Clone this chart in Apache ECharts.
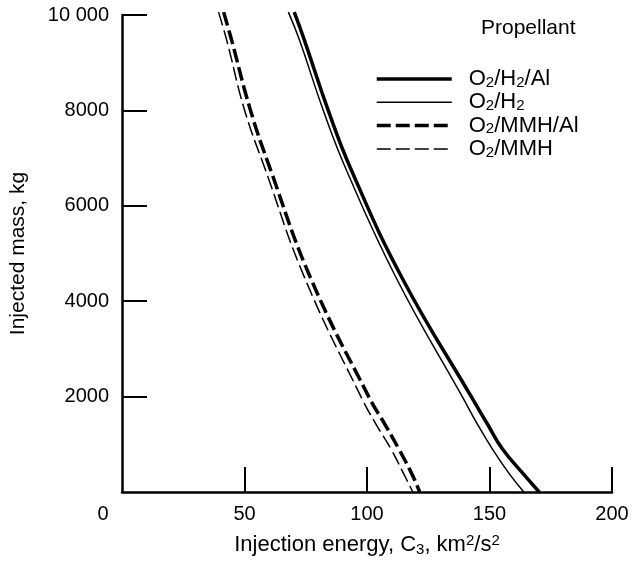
<!DOCTYPE html>
<html>
<head>
<meta charset="utf-8">
<script src="https://cdn.jsdelivr.net/npm/echarts@6/dist/echarts.min.js"></script>
<style>html,body{margin:0;padding:0;background:#fff}#c{width:637px;height:562px}</style>
</head>
<body>
<div id="c"></div>
<script>
// Injected mass levels (kg)
const massLevels = [10060, 9480, 8010, 6760, 4460, 1950, 1420, 900, 380, 0];
// Injection energy C3 (km2/s2) per propellant at those mass levels
const c3_O2H2Al  = [70.3, 74.4, 84.1, 93.5, 114.6, 143.1, 149.2, 155.3, 163.8, 170.3];
const c3_O2H2    = [67.9, 72.4, 82.1, 91.5, 112.2, 139.4, 145.1, 151.2, 158.1, 164.0];
const c3_O2MMHAl = [41.5, 44.7, 52.4, 60.6, 77.2, 101.2, 107.3, 113.0, 118.3, 121.5];
const c3_O2MMH   = [39.4, 42.7, 50.0, 58.5, 74.8, 98.0, 103.7, 109.8, 115.0, 118.7];
const seriesNames = ['O2/H2/Al', 'O2/H2', 'O2/MMH/Al', 'O2/MMH'];
const legendRich = {
  'O2/H2/Al': '{m|O}{s|2}{m|/H}{s|2}{m|/Al}',
  'O2/H2': '{m|O}{s|2}{m|/H}{s|2}',
  'O2/MMH/Al': '{m|O}{s|2}{m|/MMH/Al}',
  'O2/MMH': '{m|O}{s|2}{m|/MMH}'
};
const yTickValues = [2000, 4000, 6000, 8000, 10000];
const yTickLabels = ['2000', '4000', '6000', '8000', '10 000'];
const xTickValues = [50, 100, 150, 200];
const xLabelValues = [0, 50, 100, 150, 200];

const FONT = '"Liberation Sans", Arial, Helvetica, sans-serif';
const zip = (xs) => xs.map((x, i) => [x, massLevels[i]]);

const chart = echarts.init(document.getElementById('c'), null, {renderer: 'canvas'});
const mkSeries = (name, data, width, dashed) => ({
  name, type: 'line', data: zip(data), smooth: 0.45, symbol: 'none', clip: false,
  lineStyle: {color: '#000', width, type: dashed ? [14, 5] : 'solid'},
  itemStyle: {color: '#000'}
});

chart.setOption({
  animation: false,
  backgroundColor: '#fff',
  title: {
    text: 'Propellant', left: 476, top: 13,
    textStyle: {fontFamily: FONT, fontSize: 21, fontWeight: 'normal', color: '#000'}
  },
  legend: {
    data: seriesNames, orient: 'vertical', left: 370, top: 63,
    itemWidth: 75, itemHeight: 14, itemGap: 1.3,
    itemStyle: {opacity: 0},
    lineStyle: {width: 'inherit'},
    formatter: (n) => '{sp|}' + legendRich[n],
    textStyle: {
      fontFamily: FONT, color: '#000',
      rich: {
        sp: {width: 12},
        m: {fontFamily: FONT, fontSize: 22, lineHeight: 22, color: '#000'},
        s: {fontFamily: FONT, fontSize: 15, lineHeight: 11, verticalAlign: 'bottom', color: '#000'}
      }
    }
  },
  grid: {left: 120, right: 25, top: 15, bottom: 69, containLabel: false},
  xAxis: {
    type: 'value', min: 0, max: 200, interval: 50,
    splitLine: {show: false},
    axisLine: {show: true, onZero: false, lineStyle: {color: '#000', width: 2.5}},
    axisTick: {show: true, inside: true, length: 25, customValues: xTickValues, lineStyle: {color: '#000', width: 2}},
    axisLabel: {
      customValues: xLabelValues, margin: 12,
      fontFamily: FONT, fontSize: 20, color: '#000',
      formatter: (v) => v === 0 ? '{z|0}' : String(v),
      rich: {z: {fontFamily: FONT, fontSize: 20, color: '#000', padding: [0, 38, 0, 0]}}
    },
    name: '{m|Injection energy, C}{s|3}{m|, km}{p|2}{m|/s}{p|2}',
    nameLocation: 'middle', nameGap: 41,
    nameTextStyle: {
      fontFamily: FONT, fontSize: 22, color: '#000',
      rich: {
        m: {fontFamily: FONT, fontSize: 22, lineHeight: 24, color: '#000'},
        s: {fontFamily: FONT, fontSize: 15, lineHeight: 12, verticalAlign: 'bottom', color: '#000'},
        p: {fontFamily: FONT, fontSize: 15, lineHeight: 15, verticalAlign: 'top', color: '#000'}
      }
    }
  },
  yAxis: {
    type: 'value', min: 0, max: 10000, interval: 2000,
    splitLine: {show: false},
    axisLine: {show: true, onZero: false, lineStyle: {color: '#000', width: 2.5}},
    axisTick: {show: true, inside: true, length: 25, customValues: yTickValues, lineStyle: {color: '#000', width: 2}},
    axisLabel: {
      customValues: yTickValues, margin: 13,
      fontFamily: FONT, fontSize: 20, color: '#000',
      formatter: (v) => yTickLabels[yTickValues.indexOf(v)]
    },
    name: 'Injected mass, kg', nameLocation: 'middle', nameGap: 93,
    nameTextStyle: {fontFamily: FONT, fontSize: 21, color: '#000'}
  },
  series: [
    mkSeries(seriesNames[0], c3_O2H2Al, 3.5, false),
    mkSeries(seriesNames[1], c3_O2H2, 1.5, false),
    mkSeries(seriesNames[2], c3_O2MMHAl, 3.5, true),
    mkSeries(seriesNames[3], c3_O2MMH, 1.5, true)
  ]
});
</script>
</body>
</html>
